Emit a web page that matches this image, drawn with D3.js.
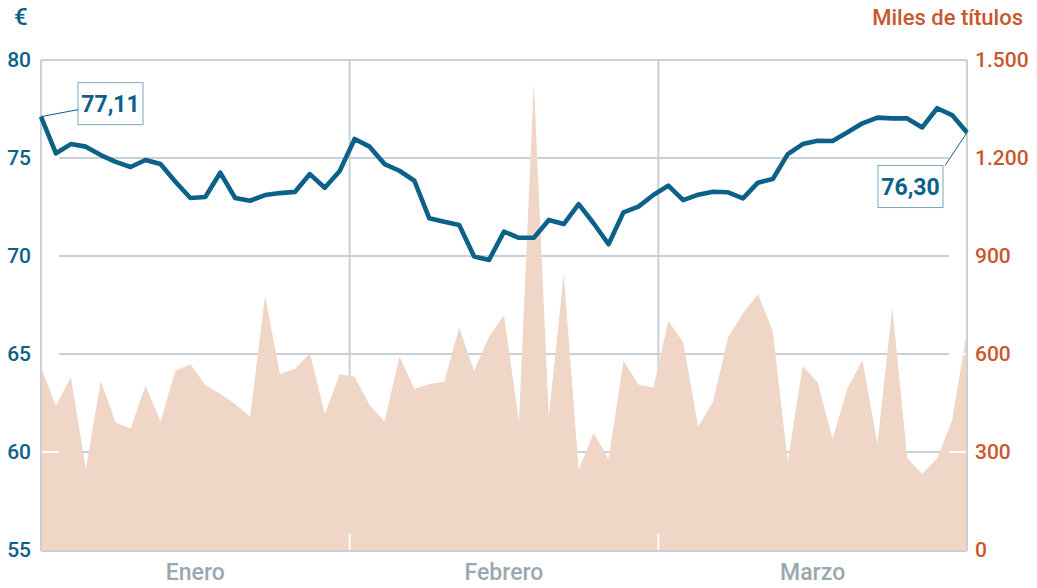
<!DOCTYPE html>
<html>
<head>
<meta charset="utf-8">
<script src="https://cdn.jsdelivr.net/npm/d3@7"></script>
<style>
  body { margin: 0; background: #fff; }
  text { font-family: Roboto, "DejaVu Sans", sans-serif; }
</style>
</head>
<body>
<div id="chart"></div>
<script>
// monthly bands on the x axis
var months = ["Enero", "Febrero", "Marzo"];

// closing price, euros (one per trading day)
var price = [
  77.11, 75.24, 75.71, 75.58, 75.15, 74.80, 74.54, 74.90, 74.69, 73.79,
  72.96, 73.01, 74.25, 72.96, 72.82, 73.11, 73.21, 73.27, 74.18, 73.48,
  74.34, 75.97, 75.58, 74.69, 74.35, 73.84, 71.92, 71.75, 71.58, 69.97,
  69.80, 71.24, 70.93, 70.93, 71.84, 71.63, 72.65, 71.67, 70.60, 72.23,
  72.52, 73.11, 73.59, 72.85, 73.13, 73.28, 73.25, 72.94, 73.74, 73.93,
  75.20, 75.71, 75.88, 75.87, 76.31, 76.77, 77.06, 77.02, 77.02, 76.56,
  77.54, 77.19, 76.30
];

// traded volume, thousands of shares
var volume = [
  559, 442, 529, 247, 517, 390, 372, 503, 393, 549,
  569, 505, 478, 447, 408, 778, 539, 554, 602, 416,
  538, 530, 444, 393, 592, 493, 508, 515, 680, 549,
  653, 719, 393, 1430, 408, 845, 245, 359, 278, 579,
  507, 497, 702, 635, 377, 454, 651, 724, 784, 668,
  270, 563, 513, 340, 495, 582, 324, 743, 281, 233,
  281, 398, 668
];

var priceTicks = [55, 60, 65, 70, 75, 80];
var volumeTicks = [0, 300, 600, 900, 1200, 1500];

function priceChart () {

  var width = 1037;
  var height = 588;

  const margin = {
    top: 60,
    right: 70,
    bottom: 38,
    left: 41
  };

  var blue = "#0c6189";
  var orange = "#c8582d";
  var grid = "#c9d1d7";
  var fillArea = "#efd6c7";

  // spanish style numbers: 1.500 and 77,11
  var es = d3.formatLocale({ decimal: ",", thousands: ".", grouping: [3], currency: ["", " €"] });

  var svg = d3.select("#chart")
    .append("svg")
    .attr("width", width)
    .attr("height", height);

  var x = d3.scaleLinear()
    .domain([0, price.length - 1])
    .range([margin.left, width - margin.right]);

  var xMonth = d3.scaleBand()
    .domain(months)
    .range([margin.left, width - margin.right]);

  var yPrice = d3.scaleLinear()
    .domain([55, 80])
    .range([height - margin.bottom, margin.top]);

  var yVol = d3.scaleLinear()
    .domain([0, 1500])
    .range([height - margin.bottom, margin.top]);

  // horizontal gridlines
  svg.append("g")
    .selectAll("line")
    .data(priceTicks)
    .enter()
    .append("line")
    .attr("x1", x.range()[0])
    .attr("x2", x.range()[1])
    .attr("y1", d => yPrice(d))
    .attr("y2", d => yPrice(d))
    .style("stroke", grid)
    .style("stroke-width", 2);

  // month separators
  svg.append("g")
    .selectAll("line")
    .data(months.slice(1))
    .enter()
    .append("line")
    .attr("x1", d => xMonth(d))
    .attr("x2", d => xMonth(d))
    .attr("y1", yPrice(80))
    .attr("y2", yPrice(55))
    .style("stroke", grid)
    .style("stroke-width", 2);

  // volume area
  var area = d3.area()
    .x((d, i) => x(i))
    .y0(yVol(0))
    .y1(d => yVol(d));

  svg.append("path")
    .datum(volume)
    .attr("d", area)
    .style("fill", fillArea);

  // frame: left, right and bottom
  var frame = svg.append("g")
    .style("stroke", grid)
    .style("stroke-width", 2);

  frame.append("line")
    .attr("x1", x(0)).attr("x2", x(0))
    .attr("y1", yPrice(80)).attr("y2", yPrice(55) + 1);
  frame.append("line")
    .attr("x1", x(price.length - 1)).attr("x2", x(price.length - 1))
    .attr("y1", yPrice(80)).attr("y2", yPrice(55) + 1);
  frame.append("line")
    .attr("x1", x(0)).attr("x2", x(price.length - 1))
    .attr("y1", yPrice(55) + 1).attr("y2", yPrice(55) + 1);

  // little white ticks drawn over the area
  var ticks = svg.append("g")
    .style("stroke", "#fff")
    .style("stroke-width", 2);

  ticks.selectAll(".tl")
    .data(priceTicks.slice(1, -1))
    .enter()
    .append("line")
    .attr("x1", x(0) + 1).attr("x2", x(0) + 18)
    .attr("y1", d => yPrice(d)).attr("y2", d => yPrice(d));

  ticks.selectAll(".tr")
    .data(priceTicks.slice(1, -1))
    .enter()
    .append("line")
    .attr("x1", x(price.length - 1) - 18).attr("x2", x(price.length - 1) - 1)
    .attr("y1", d => yPrice(d)).attr("y2", d => yPrice(d));

  ticks.selectAll(".tb")
    .data(months.slice(1))
    .enter()
    .append("line")
    .attr("x1", d => xMonth(d)).attr("x2", d => xMonth(d))
    .attr("y1", yPrice(55) - 16).attr("y2", yPrice(55));

  // price line
  var line = d3.line()
    .x((d, i) => x(i))
    .y(d => yPrice(d));

  svg.append("path")
    .datum(price)
    .attr("d", line)
    .style("fill", "none")
    .style("stroke", blue)
    .style("stroke-width", 4.6)
    .style("stroke-linejoin", "round");

  // first / last value callouts
  var fmt = es.format(",.2f");
  var callouts = [
    { i: 0, dx: 37, dy: -34, lx: 37, ly: -7 },
    { i: price.length - 1, dx: -89, dy: 33, lx: -22, ly: 33 }
  ];

  callouts.forEach(function (c) {
    var px = x(c.i), py = yPrice(price[c.i]);
    var g = svg.append("g");
    g.append("line")
      .attr("x1", px).attr("y1", py)
      .attr("x2", px + c.lx).attr("y2", py + c.ly)
      .style("stroke", blue)
      .style("stroke-width", 1);
    g.append("rect")
      .attr("x", px + c.dx)
      .attr("y", py + c.dy)
      .attr("width", 65)
      .attr("height", 42)
      .style("fill", "#fff")
      .style("stroke", blue)
      .style("stroke-opacity", 0.55)
      .style("stroke-width", 1);
    g.append("text")
      .attr("x", px + c.dx + 32.5)
      .attr("y", py + c.dy + 29)
      .style("text-anchor", "middle")
      .style("font-size", "23px")
      .style("font-weight", "bold")
      .style("fill", blue)
      .text(fmt(price[c.i]));
  });

  // left axis labels
  var yAxisL = d3.axisLeft(yPrice)
    .tickValues(priceTicks)
    .tickSize(0)
    .tickPadding(10);

  svg.append("g")
    .attr("transform", `translate(${x(0)},0)`)
    .call(yAxisL)
    .call(g => g.select(".domain").remove())
    .selectAll("text")
    .style("font-family", "Roboto, sans-serif")
    .style("font-size", "21px")
    .style("font-weight", 500)
    .style("fill", blue);

  // right axis labels
  var yAxisR = d3.axisRight(yVol)
    .tickValues(volumeTicks)
    .tickSize(0)
    .tickPadding(8)
    .tickFormat(d => es.format(",")(d));

  svg.append("g")
    .attr("transform", `translate(${x(price.length - 1)},0)`)
    .call(yAxisR)
    .call(g => g.select(".domain").remove())
    .selectAll("text")
    .style("font-family", "Roboto, sans-serif")
    .style("font-size", "21px")
    .style("font-weight", 500)
    .style("fill", orange);

  // month labels
  svg.append("g")
    .selectAll("text")
    .data(months)
    .enter()
    .append("text")
    .attr("x", d => xMonth(d) + xMonth.bandwidth() / 2)
    .attr("y", 580)
    .style("text-anchor", "middle")
    .style("font-size", "23px")
    .style("font-weight", 500)
    .style("fill", "#9aa8b1")
    .text(d => d);

  // unit titles
  svg.append("text")
    .attr("x", 14)
    .attr("y", 25)
    .style("font-size", "24px")
    .style("font-weight", 500)
    .style("fill", blue)
    .text("€");

  svg.append("text")
    .attr("x", 1023)
    .attr("y", 25)
    .style("text-anchor", "end")
    .style("font-size", "22px")
    .style("font-weight", 500)
    .style("fill", orange)
    .text("Miles de títulos");
}

priceChart();
</script>
</body>
</html>
